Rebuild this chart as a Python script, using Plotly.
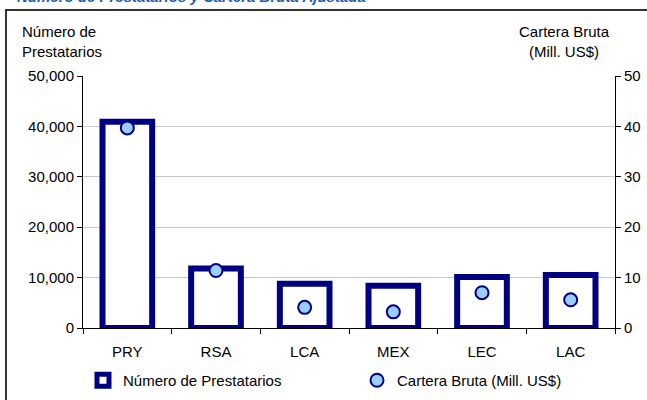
import plotly.graph_objects as go

categories = ["PRY", "RSA", "LCA", "MEX", "LEC", "LAC"]
prestatarios = [40900, 11800, 8800, 8400, 10100, 10500]
cartera = [39.7, 11.4, 4.1, 3.2, 7.0, 5.6]
left_ticks = [0, 10000, 20000, 30000, 40000, 50000]
right_ticks = [0, 10, 20, 30, 40, 50]

NAVY = "#000080"
FONT = "Liberation Sans, Arial, sans-serif"

W, H = 647, 400
L, R, T, B = 83, 32, 76, 72
pw, ph = W - L - R, H - T - B

def px(x):
    return (x - L) / pw

def py(y):
    return (H - B - y) / ph

fig = go.Figure()
fig.add_trace(go.Bar(
    x=categories, y=prestatarios, name="Número de Prestatarios",
    marker=dict(color="white", line=dict(color=NAVY, width=6)),
    width=0.56, legend="legend",
))
fig.add_trace(go.Scatter(
    x=categories, y=cartera, name="Cartera Bruta (Mill. US$)", yaxis="y2",
    mode="markers",
    marker=dict(size=13, color="#99CCFF", line=dict(color=NAVY, width=2)),
    legend="legend2",
))

fig.update_layout(
    width=W, height=H,
    margin=dict(l=L, r=R, t=T, b=B, autoexpand=False),
    paper_bgcolor="white", plot_bgcolor="white",
    font=dict(family=FONT, size=15, color="black"),
    showlegend=True,
    xaxis=dict(
        type="category", showline=True, linecolor="black", linewidth=1,
        ticks="outside", tickson="boundaries", ticklen=5, tickcolor="black",
        showgrid=False, tickfont=dict(size=15), fixedrange=True, automargin=False,
        ticklabelstandoff=10,
    ),
    yaxis=dict(
        range=[0, 50000], tickvals=left_ticks, tickformat=",d",
        showline=True, linecolor="black", linewidth=1,
        ticks="outside", ticklen=5, tickcolor="black",
        showgrid=True, gridcolor="#c8c8c8", gridwidth=1, zeroline=False,
        tickfont=dict(size=15), automargin=False,
    ),
    yaxis2=dict(
        range=[0, 50], tickvals=right_ticks, overlaying="y", side="right",
        showline=True, linecolor="black", linewidth=1,
        ticks="outside", ticklen=5, tickcolor="black",
        showgrid=False, zeroline=False, tickfont=dict(size=15), automargin=False,
    ),
    legend=dict(orientation="h", x=px(83), y=py(364), xanchor="left", yanchor="top",
                font=dict(size=15), bgcolor="rgba(0,0,0,0)", itemwidth=30),
    legend2=dict(orientation="h", x=px(357), y=py(364), xanchor="left", yanchor="top",
                 font=dict(size=15), bgcolor="rgba(0,0,0,0)", itemwidth=30),
)

# outer frame
fig.add_shape(type="rect", xref="paper", yref="paper",
              x0=px(6), x1=px(700), y0=py(460), y1=py(10),
              line=dict(color="#333333", width=2), fillcolor="rgba(0,0,0,0)", layer="below")

# title, partially cut at top (as in the reference)
fig.add_annotation(xref="paper", yref="paper", x=px(15), y=py(7), xanchor="left", yanchor="bottom",
                   text="<b><i>Número de Prestatarios y Cartera Bruta Ajustada</i></b>",
                   showarrow=False, font=dict(size=15, color="#1F5FAF"))

# axis titles
fig.add_annotation(xref="paper", yref="paper", x=px(20), y=py(62), xanchor="left", yanchor="bottom",
                   text="Número de<br>Prestatarios", align="left", showarrow=False,
                   font=dict(size=15))
fig.add_annotation(xref="paper", yref="paper", x=px(612), y=py(62), xanchor="right", yanchor="bottom",
                   text="Cartera Bruta<br>(Mill. US$)", align="center", showarrow=False,
                   font=dict(size=15))

fig.write_html("out.html")
